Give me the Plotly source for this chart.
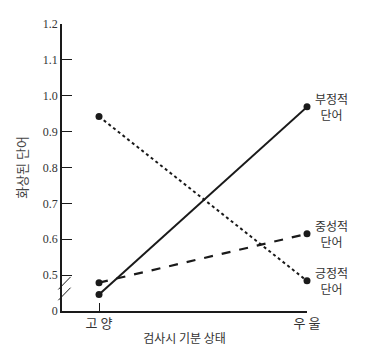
import plotly.graph_objects as go

moods = ["고 양", "우 울"]
negative_words = [0.446, 0.969]
neutral_words = [0.479, 0.615]
positive_words = [0.942, 0.484]
series_labels = ["부정적<br>단어", "중성적<br>단어", "긍정적<br>단어"]
y_ticks = [0.4, 0.5, 0.6, 0.7, 0.8, 0.9, 1.0, 1.1, 1.2]
y_tick_text = ["0", "0.5", "0.6", "0.7", "0.8", "0.9", "1.0", "1.1", "1.2"]

xpos = [0, 1]
ink = "#1a1a1a"
kr = "Noto Sans CJK KR"

fig = go.Figure()
for vals, dash, w in [(negative_words, "solid", 2), (neutral_words, "dash", 2.2), (positive_words, "dot", 2)]:
    fig.add_trace(go.Scatter(
        x=xpos, y=vals, mode="lines+markers", cliponaxis=False,
        line=dict(color=ink, width=w, dash=dash),
        marker=dict(color=ink, size=7), showlegend=False))

for vals, lab in zip([negative_words, neutral_words, positive_words], series_labels):
    fig.add_annotation(x=xpos[1], y=vals[1], text=lab, showarrow=False,
                       xanchor="left", xshift=6, yshift=0,
                       font=dict(family=kr, size=12, color="#333"), align="center")

# axis break marks
for dy in [0, 0.03]:
    fig.add_shape(type="line", xref="paper", yref="y", x0=-0.015, x1=0.035,
                  y0=0.43 + dy, y1=0.465 + dy, line=dict(color=ink, width=1))

fig.update_layout(
    width=361, height=354, plot_bgcolor="white", paper_bgcolor="white",
    margin=dict(l=54, r=62, t=9, b=51),
    xaxis=dict(range=[-0.178, 1.0], tickvals=xpos, ticktext=moods, showgrid=False,
               zeroline=False, showline=True, linecolor=ink, linewidth=1.5,
               ticks="inside", ticklen=8, tickcolor=ink,
               tickfont=dict(family=kr, size=13, color="#333"),
               title=dict(text="검사시 기분 상태", font=dict(family=kr, size=12, color="#333"), standoff=3)),
    yaxis=dict(range=[0.4, 1.2], tickvals=y_ticks, ticktext=y_tick_text, showgrid=False,
               zeroline=False, showline=True, linecolor=ink, linewidth=1.5,
               ticks="inside", ticklen=10, tickcolor=ink,
               tickfont=dict(family="Liberation Serif", size=12, color="#333"),
               title=dict(text="화상된 단어", font=dict(family=kr, size=13, color="#444"), standoff=12)),
)
fig.write_html("out.html")
